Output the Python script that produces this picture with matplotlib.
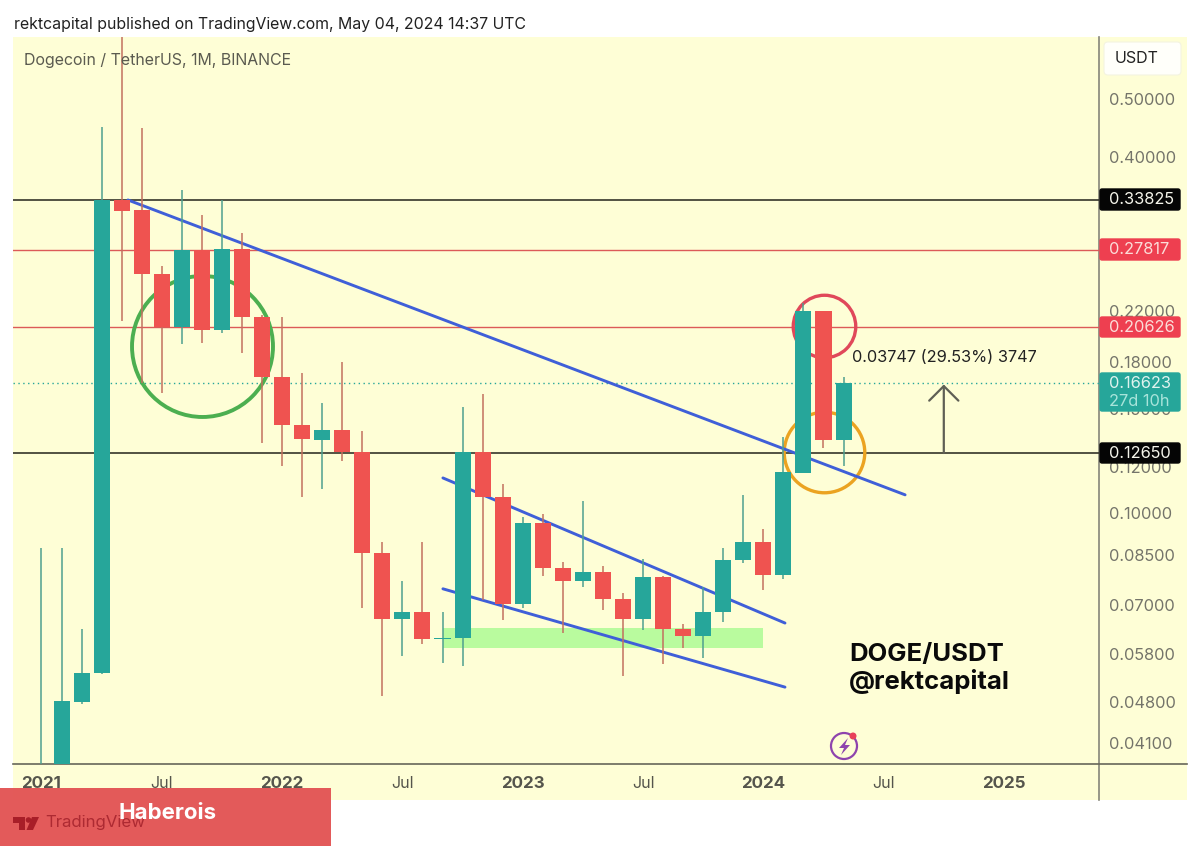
import matplotlib
matplotlib.use("Agg")
import matplotlib.pyplot as plt
from matplotlib.patches import Rectangle, FancyBboxPatch, Circle, Polygon

plt.rcParams['font.family'] = 'Inter'

# monthly candles, index 0 = Jan 2021
opens = [.0047, .0346, .0481, .0538, .3383, .3255, .2538, .2065, .2786, .2041, .2797, .2147, .1700,
         .1411, .1330, .1383, .1270, .0857, .0663, .0682, .0613, .0616, .1270, .1066, .0703, .0963,
         .0809, .0769, .0796, .0717, .0663, .0781, .0638, .0621, .0682, .0835, .0894, .0787, .1170,
         .2198, .1330]
highs = [.0874, .0874, .0638, .4493, .7376, .4476, .2618, .3518, .3192, .3383, .2976, .2160, .2147,
         .1727, .1537, .1802, .1378, .0894, .0769, .0894, .0682, .1513, .1592, .1122, .0987, .0998,
         .0828, .1049, .0815, .0734, .0838, .0785, .0650, .0751, .0874, .1075, .0942, .1346, .2267,
         .2200, .1700]
lows = [.0045, .0330, .0477, .0536, .2113, .1661, .1598, .1932, .1940, .2017, .1866, .1315, .1203,
        .1066, .1100, .1226, .0692, .0492, .0574, .0602, .0559, .0553, .0714, .0661, .0692, .0784,
        .0628, .0751, .0687, .0532, .0635, .0557, .0592, .0570, .0656, .0825, .0743, .0775, .1170,
        .1290, .1203]
closes = [.0346, .0483, .0538, .3383, .3242, .2538, .2065, .2786, .2041, .2797, .2147, .1700, .1411,
          .1336, .1383, .1270, .0857, .0663, .0682, .0613, .0616, .1270, .1066, .0703, .0963, .0809,
          .0769, .0796, .0717, .0663, .0781, .0638, .0621, .0682, .0835, .0894, .0787, .1175, .2198,
          .1330, .16623]

price_ticks = [.5, .4, .22, .18, .15, .12, .10, .085, .07, .058, .048, .041]
price_labels = ['0.50000', '0.40000', '0.22000', '0.18000', '0.15000', '0.12000', '0.10000',
                '0.08500', '0.07000', '0.05800', '0.04800', '0.04100']
month_ticks = [0, 6, 12, 18, 24, 30, 36, 42, 48]
month_labels = ['2021', 'Jul', '2022', 'Jul', '2023', 'Jul', '2024', 'Jul', '2025']

black_levels = [.33825, .1265]
red_levels = [.27817, .20626]
last_price = .16623

# trendlines as (month index, price) pairs
main_trend = ([4.31, 43.07], [.3383, .1075])
upper_wedge = ([20.02, 37.08], [.1148, .0653])
lower_wedge = ([20.02, 37.08], [.0746, .0509])
support_zone = (20.0, 36.0, .0592, .0640)

W, H = 1200, 847
TEAL = '#26a69a'
RED = '#ef5350'
BG = '#fefed6'

fig = plt.figure(figsize=(W / 100, H / 100), dpi=100, facecolor='white')

# pixel-space axes behind and in front of the chart
back = fig.add_axes([0, 0, 1, 1], zorder=0)
back.set_xlim(0, W)
back.set_ylim(H, 0)
back.axis('off')
back.add_patch(Rectangle((13, 37), 1174, 763, fc=BG, ec='none'))
back.plot([1099, 1099], [37, 800], color='#85857a', lw=1.2)
back.plot([13, 1187], [764, 764], color='#66665a', lw=1.2)

ax = fig.add_axes([13 / W, 1 - 764 / H, 1086 / W, 727 / H], zorder=1)
ax.patch.set_alpha(0)
ax.set_yscale('log')
ax.set_xlim(-1.42, 52.74)
ax.set_ylim(.03775, .6375)
for s in ax.spines.values():
    s.set_visible(False)

ax.yaxis.tick_right()
ax.set_yticks(price_ticks)
ax.set_yticklabels(price_labels)
ax.minorticks_off()
ax.set_xticks(month_ticks)
ax.set_xticklabels(month_labels)
ax.tick_params(axis='y', length=0, pad=7.2, labelsize=11.8, labelcolor='#74746a')
ax.tick_params(axis='x', length=0, pad=8.5, labelsize=11.5, labelcolor='#55554c')
for lab, name in zip(ax.get_xticklabels(), month_labels):
    if name != 'Jul':
        lab.set_fontweight('bold')
        lab.set_fontsize(12.2)

for lvl in black_levels:
    ax.axhline(lvl, color='#35352a', lw=1.2, zorder=2)
for lvl in red_levels:
    ax.axhline(lvl, color='#dc5a58', lw=1.0, zorder=2)
ax.axhline(last_price, color=TEAL, lw=1, ls=(0, (1, 2.5)), zorder=2)

x0, x1, p0, p1 = support_zone
ax.fill_between([x0, x1], p0, p1, color='#b9fb9e', lw=0, zorder=1)

# circles stay round on the log axis as markers
ax.plot([8.0], [.1914], 'o', ms=101.5, mfc='none', mec='#4caf50', mew=2.8, zorder=2.5)
ax.plot([39.05], [.2073], 'o', ms=45, mfc='none', mec='#e0485a', mew=2.4, zorder=2.5)
ax.plot([39.05], [.1268], 'o', ms=58, mfc='none', mec='#eba321', mew=2.4, zorder=2.5)

for xs, ys in (main_trend, upper_wedge, lower_wedge):
    ax.plot(xs, ys, color='#3f5fd8', lw=2.1, solid_capstyle='round', zorder=3)

for i in range(len(opens)):
    up = closes[i] >= opens[i]
    ax.vlines(i, lows[i], highs[i], color='#4f9f8f' if up else '#c2705f', lw=1.1, zorder=4)
    ax.bar(i, abs(closes[i] - opens[i]), bottom=min(opens[i], closes[i]), width=0.8,
           color=TEAL if up else RED, lw=0, zorder=5)

ax.annotate('', xy=(45.0, .1651), xytext=(45.0, .1265),
            arrowprops=dict(arrowstyle='->,head_width=10.5,head_length=10.5', mutation_scale=1,
                            color='#5f5f55', lw=1.6, shrinkA=0, shrinkB=0), zorder=6)
ax.text(40.43, .1836, '0.03747 (29.53%) 3747', fontsize=11.75, color='#222222', va='center', zorder=7)

# pixel-space overlay: tags, labels and the banner
top = fig.add_axes([0, 0, 1, 1], zorder=2)
top.set_xlim(0, W)
top.set_ylim(H, 0)
top.axis('off')


def tag(y0, y1, color):
    top.add_patch(FancyBboxPatch((1100, y0 + 1), 80, y1 - y0 - 2, boxstyle='round,pad=0,rounding_size=2',
                                 fc=color, ec=color, lw=1))


top.text(14, 24, 'rektcapital published on TradingView.com, May 04, 2024 14:37 UTC', fontsize=11.38,
         color='#222222', va='center')
top.text(24, 60, 'Dogecoin / TetherUS, 1M, BINANCE', fontsize=11.45, color='#5b5b50', va='center')

top.add_patch(FancyBboxPatch((1104, 42), 77, 33, boxstyle='round,pad=0,rounding_size=4', fc='#fffffa',
                             ec='#f4f4e0', lw=0.8))
top.text(1137, 58.5, 'USDT', fontsize=11.5, color='#222222', ha='center', va='center')

tag(188, 211, '#050505')
top.text(1109, 200, '0.33825', fontsize=11.8, color='#f4f4ea', va='center')
tag(238, 261, '#ee3f50')
top.text(1109, 250, '0.27817', fontsize=11.8, color='#fbdcd8', va='center')
tag(316, 338, '#ee3f50')
top.text(1109, 327, '0.20626', fontsize=11.8, color='#fbdcd8', va='center')
tag(372, 412, TEAL)
top.text(1109, 383, '0.16623', fontsize=11.8, color='#dff3ee', va='center')
top.text(1109, 401, '27d 10h', fontsize=11.8, color='#a8e4da', va='center')
tag(442, 464, '#050505')
top.text(1109, 453, '0.12650', fontsize=11.8, color='#f4f4ea', va='center')

top.text(849, 654, 'DOGE/USDT', fontsize=18.5, fontweight='bold', color='#0a0a0a', va='center')
top.text(849, 681, '@rektcapital', fontsize=18.5, fontweight='bold', color='#0a0a0a', va='center')

top.add_patch(Circle((844, 746), 13, fc='none', ec='#8e44ad', lw=1.6))
top.add_patch(Circle((853, 736), 3.5, fc='#e8405a', ec='none'))
top.add_patch(Polygon([(848, 738), (839, 748), (844, 748), (841, 755), (850, 745), (845, 745)],
                      fc='#8e44ad', ec='none'))

top.add_patch(Rectangle((0, 788), 331, 58, fc='#e35555', ec='none', alpha=0.97))
top.add_patch(Polygon([(13, 817), (25, 817), (25, 830), (19, 830), (19, 823), (13, 823)], fc='#a81e28', ec='none'))
top.add_patch(Circle((28.5, 820), 2.8, fc='#a81e28', ec='none'))
top.add_patch(Polygon([(32, 817), (39, 817), (33, 830), (26.5, 830)], fc='#a81e28', ec='none'))
top.text(45, 823, 'TradingView', fontsize=12.1, color='#ad2a32', va='center')
top.text(118, 813, 'Haberois', fontsize=16, fontweight='bold', color='white', va='center')

fig.savefig('out.png', dpi=100)
